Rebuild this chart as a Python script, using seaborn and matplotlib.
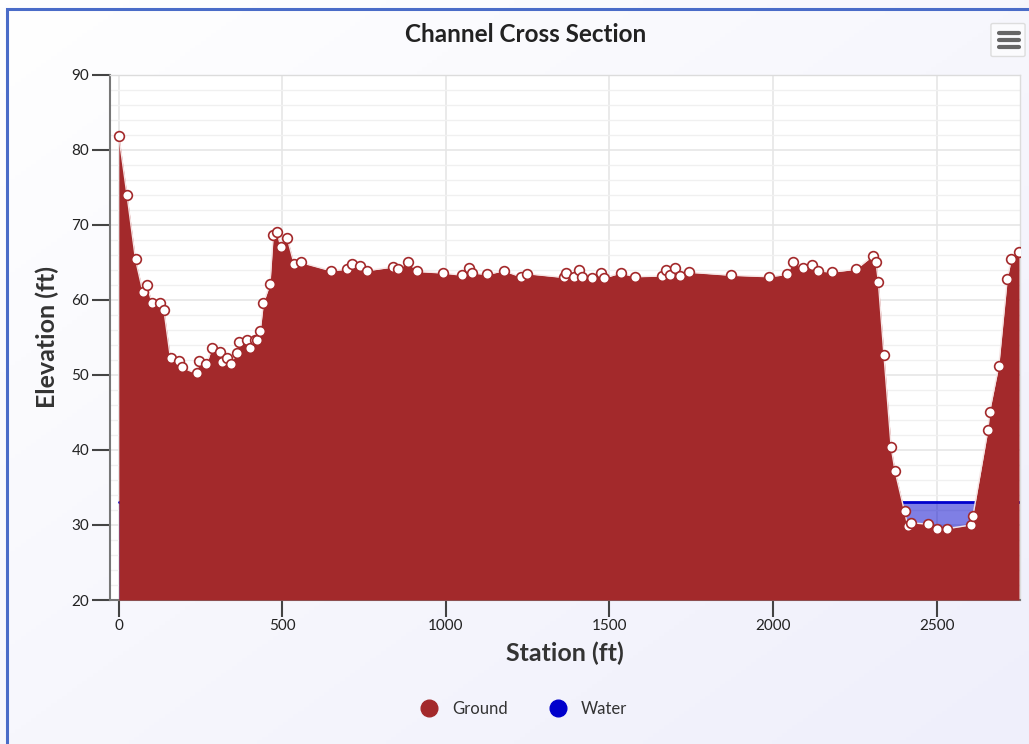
import numpy as np
import seaborn as sns
import matplotlib.pyplot as plt
from matplotlib.lines import Line2D
from matplotlib.patches import FancyBboxPatch, Rectangle
from matplotlib.ticker import MultipleLocator

# surveyed ground points (station ft, elevation ft)
stations = [0, 25, 51, 74, 85, 102, 127, 138, 158, 185, 192, 238, 245, 268, 284,
            309, 314, 330, 342, 360, 368, 393, 401, 416, 423, 432, 442, 462, 472,
            483, 496, 515, 536, 556, 648, 699, 712, 737, 758, 839, 852, 885, 913,
            991, 1049, 1070, 1080, 1126, 1177, 1228, 1248, 1361, 1366, 1391, 1406,
            1416, 1447, 1474, 1482, 1534, 1577, 1662, 1672, 1685, 1699, 1716, 1743,
            1871, 1988, 2043, 2060, 2093, 2118, 2138, 2179, 2254, 2305, 2315, 2322,
            2339, 2361, 2373, 2402, 2412, 2422, 2475, 2502, 2532, 2604, 2611, 2657,
            2662, 2690, 2716, 2728, 2752]
elevations = [81.9, 74.0, 65.4, 61.0, 62.0, 59.6, 59.6, 58.6, 52.2, 51.9, 51.0,
              50.2, 51.9, 51.4, 53.6, 53.0, 51.7, 52.2, 51.5, 52.9, 54.4, 54.7,
              53.6, 54.7, 54.7, 55.8, 59.6, 62.1, 68.7, 69.1, 67.0, 68.2, 64.8,
              65.0, 63.9, 64.1, 64.8, 64.5, 63.9, 64.4, 64.1, 65.0, 63.8, 63.6,
              63.3, 64.2, 63.6, 63.4, 63.9, 63.1, 63.5, 63.0, 63.6, 63.0, 64.0,
              63.1, 62.9, 63.6, 62.9, 63.6, 63.1, 63.2, 64.0, 63.3, 64.2, 63.2,
              63.7, 63.3, 63.1, 63.4, 65.0, 64.2, 64.7, 63.9, 63.7, 64.1, 65.9,
              65.0, 62.4, 52.7, 40.4, 37.2, 31.8, 29.9, 30.3, 30.1, 29.5, 29.5,
              30.0, 31.2, 42.7, 45.1, 51.2, 62.8, 65.4, 66.4]
water_level = 33.0

ground_color = "#a3292b"
water_color = "#0000cc"

sns.set_theme(style="white")
plt.rcParams["font.family"] = ["Lato", "DejaVu Sans"]

fig = plt.figure(figsize=(10.29, 7.44), dpi=100)

# chart container background with gradient and blue border
bg = fig.add_axes([0, 0, 1, 1], zorder=-10)
gx, gy = np.meshgrid(np.linspace(0, 1, 200), np.linspace(0, 1, 200))
grad = (gx + gy) / 2
bg.imshow(grad, extent=[0, 1, 0, 1], origin="upper", aspect="auto",
          cmap=sns.blend_palette(["#ffffff", "#efeffb"], as_cmap=True))
bg.add_patch(Rectangle((7 / 1029, -0.1), 1.2, 1.1 - 9 / 744, fill=False,
                       edgecolor="#4a6cc8", linewidth=2.2, transform=bg.transAxes))
bg.set_xlim(0, 1)
bg.set_ylim(0, 1)
bg.axis("off")

# hamburger menu button
bg.add_patch(FancyBboxPatch((993 / 1029, 1 - 55 / 744), 30 / 1029, 30 / 744,
                            boxstyle="round,pad=0.002", facecolor="#fbfbfd",
                            edgecolor="#dddddd", linewidth=1))
for k in range(3):
    yy = 1 - (33 + k * 7) / 744
    bg.plot([999 / 1029, 1019 / 1029], [yy, yy], color="#666666", lw=3,
            solid_capstyle="round")

ax = fig.add_axes([110 / 1029, 1 - 600 / 744, 910 / 1029, 525 / 744])
ax.set_facecolor("white")

# water: surface line and fill below it (covered by the ground)
ax.fill_between([0, stations[-1]], 20, water_level, color=water_color,
                alpha=0.5, linewidth=0, zorder=2)
ax.plot([0, stations[-1]], [water_level, water_level], color=water_color,
        lw=2, zorder=2)

# ground
ax.fill_between(stations, 20, elevations, color=ground_color, linewidth=0,
                zorder=3)
sns.lineplot(x=stations, y=elevations, ax=ax, color="#f6e4e4", lw=1,
             marker="o", markersize=7, markerfacecolor="white",
             markeredgecolor=ground_color, markeredgewidth=1.2, zorder=4)

ax.set_xlim(-27, 2755)
ax.set_ylim(20, 90)
ax.xaxis.set_major_locator(MultipleLocator(500))
ax.yaxis.set_major_locator(MultipleLocator(10))
ax.yaxis.set_minor_locator(MultipleLocator(2))
ax.grid(which="major", color="#e6e6e6", lw=1.2, zorder=0)
ax.grid(which="minor", axis="y", color="#f0f0f0", lw=1, zorder=0)
ax.set_axisbelow(True)

for side in ["top", "right"]:
    ax.spines[side].set_color("#dcdcdc")
    ax.spines[side].set_linewidth(1)
for side in ["left", "bottom"]:
    ax.spines[side].set_color("#777777")
    ax.spines[side].set_linewidth(1.5)

ax.tick_params(axis="both", which="major", direction="out", length=13,
               width=1.5, color="#444444", labelsize=11, labelcolor="#222222",
               pad=2, bottom=True, left=True)
ax.tick_params(axis="y", which="minor", length=0, left=False)
ax.tick_params(axis="x", length=12)

ax.set_xlabel("Station (ft)", fontsize=18, fontweight="bold", color="#333333",
              labelpad=6)
ax.set_ylabel("Elevation (ft)", fontsize=18, fontweight="bold",
              color="#333333", labelpad=9)
fig.text(0.511, 1 - 35 / 744, "Channel Cross Section", ha="center",
         va="center", fontsize=17.5, fontweight="bold", color="#222222")

handles = [
    Line2D([], [], ls="none", marker="o", markersize=12, color=ground_color,
           label="Ground"),
    Line2D([], [], ls="none", marker="o", markersize=12, color=water_color,
           label="Water"),
]
fig.legend(handles=handles, loc="center", bbox_to_anchor=(0.505, 1 - 709 / 744),
           ncol=2, frameon=False, fontsize=12, handletextpad=0.4,
           columnspacing=2.0, labelcolor="#333333")

fig.savefig("out.png", dpi=100)
